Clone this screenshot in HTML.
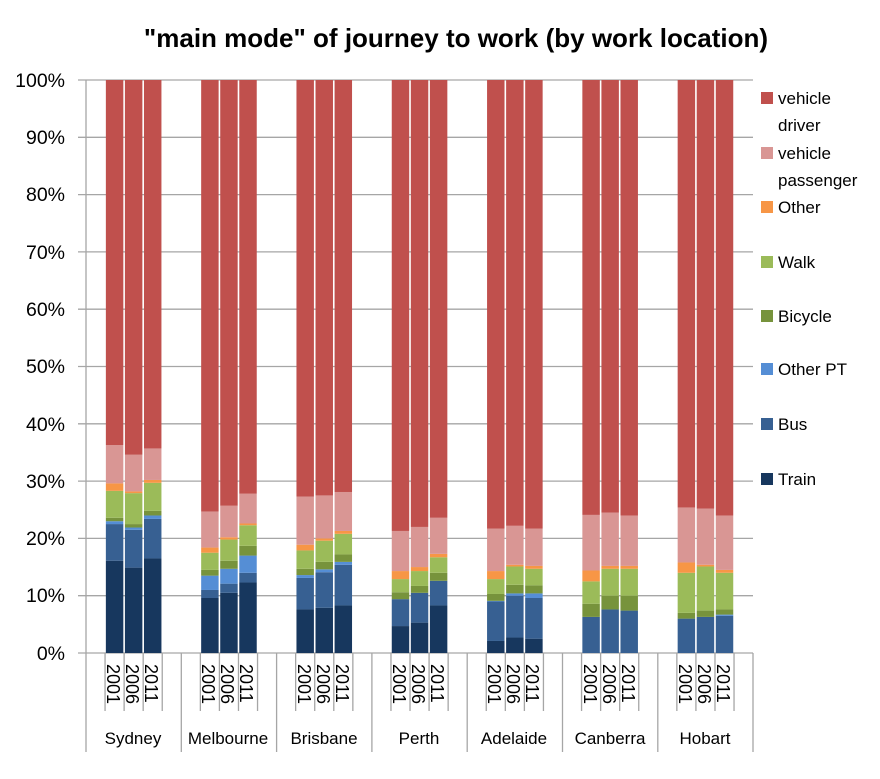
<!DOCTYPE html>
<html><head><meta charset="utf-8"><style>
body{margin:0;background:#fff;}
svg{display:block;font-family:"Liberation Sans",Arial,sans-serif;}
</style></head><body>
<svg id="s" width="880" height="779" viewBox="0 0 880 779" xmlns="http://www.w3.org/2000/svg">
<rect width="880" height="779" fill="#fff"/>
<text x="456" y="47" text-anchor="middle" font-size="26" font-weight="bold" fill="#000">"main mode" of journey to work (by work location)</text>
<g stroke="#a6a6a6" stroke-width="1.3" id="grid">
<line x1="78" y1="80" x2="753" y2="80"/><line x1="78" y1="137.3" x2="753" y2="137.3"/><line x1="78" y1="194.6" x2="753" y2="194.6"/><line x1="78" y1="251.9" x2="753" y2="251.9"/><line x1="78" y1="309.2" x2="753" y2="309.2"/><line x1="78" y1="366.5" x2="753" y2="366.5"/><line x1="78" y1="423.8" x2="753" y2="423.8"/><line x1="78" y1="481.1" x2="753" y2="481.1"/><line x1="78" y1="538.4" x2="753" y2="538.4"/><line x1="78" y1="595.7" x2="753" y2="595.7"/><line x1="78" y1="653" x2="753" y2="653"/>
<line x1="86" y1="80" x2="86" y2="653"/>
</g>
<g font-size="19.5" fill="#000" text-anchor="end">
<text x="65" y="87">100%</text><text x="65" y="144">90%</text><text x="65" y="201">80%</text><text x="65" y="259">70%</text><text x="65" y="316">60%</text><text x="65" y="373">50%</text><text x="65" y="431">40%</text><text x="65" y="488">30%</text><text x="65" y="545">20%</text><text x="65" y="602">10%</text><text x="65" y="660">0%</text>
</g>
<g id="bars"></g>
<g id="ticks" stroke="#a6a6a6" stroke-width="1.3"></g>
<g font-size="18" fill="#000" id="years">
<text transform="translate(107,664) rotate(90)">2001</text><text transform="translate(126,664) rotate(90)">2006</text><text transform="translate(145,664) rotate(90)">2011</text>
<text transform="translate(202,664) rotate(90)">2001</text><text transform="translate(221,664) rotate(90)">2006</text><text transform="translate(240,664) rotate(90)">2011</text>
<text transform="translate(298,664) rotate(90)">2001</text><text transform="translate(317,664) rotate(90)">2006</text><text transform="translate(336,664) rotate(90)">2011</text>
<text transform="translate(393,664) rotate(90)">2001</text><text transform="translate(412,664) rotate(90)">2006</text><text transform="translate(431,664) rotate(90)">2011</text>
<text transform="translate(488,664) rotate(90)">2001</text><text transform="translate(507,664) rotate(90)">2006</text><text transform="translate(526,664) rotate(90)">2011</text>
<text transform="translate(584,664) rotate(90)">2001</text><text transform="translate(603,664) rotate(90)">2006</text><text transform="translate(622,664) rotate(90)">2011</text>
<text transform="translate(679,664) rotate(90)">2001</text><text transform="translate(698,664) rotate(90)">2006</text><text transform="translate(717,664) rotate(90)">2011</text>
</g>
<g font-size="17" fill="#000" text-anchor="middle">
<text x="133" y="744">Sydney</text><text x="228" y="744">Melbourne</text><text x="324" y="744">Brisbane</text><text x="419" y="744">Perth</text><text x="514" y="744">Adelaide</text><text x="610" y="744">Canberra</text><text x="705" y="744">Hobart</text>
</g>
<g font-size="17" fill="#000">
<rect x="761" y="92" width="12" height="12" fill="#C0504D"/><text x="778" y="104">vehicle</text><text x="778" y="131">driver</text>
<rect x="761" y="147" width="12" height="12" fill="#D99694"/><text x="778" y="159">vehicle</text><text x="778" y="186">passenger</text>
<rect x="761" y="201" width="12" height="12" fill="#F79646"/><text x="778" y="213">Other</text>
<rect x="761" y="256" width="12" height="12" fill="#9BBB59"/><text x="778" y="268">Walk</text>
<rect x="761" y="310" width="12" height="12" fill="#77933C"/><text x="778" y="322">Bicycle</text>
<rect x="761" y="363" width="12" height="12" fill="#558ED5"/><text x="778" y="375">Other PT</text>
<rect x="761" y="418" width="12" height="12" fill="#376092"/><text x="778" y="430">Bus</text>
<rect x="761" y="473" width="12" height="12" fill="#17375E"/><text x="778" y="485">Train</text>
</g>
</svg>
<script>
var cols=["#17375E","#376092","#558ED5","#77933C","#9BBB59","#F79646","#D99694","#C0504D"];
var d=[
[16.1,22.5,23.0,23.6,28.3,29.6,36.3],[14.9,21.5,21.9,22.5,27.9,28.2,34.6],[16.5,23.4,24.0,24.8,29.7,30.2,35.7],
[9.6,11.0,13.5,14.5,17.5,18.4,24.7],[10.5,12.1,14.7,16.1,19.8,20.2,25.7],[12.3,14.0,17.0,18.7,22.3,22.6,27.8],
[7.6,13.1,13.6,14.7,17.9,18.9,27.3],[7.9,14.1,14.6,15.9,19.6,20.0,27.5],[8.3,15.4,15.9,17.2,20.8,21.3,28.1],
[4.7,9.4,9.4,10.6,12.9,14.3,21.3],[5.3,10.5,10.5,11.7,14.3,15.0,22.0],[8.3,12.6,12.6,14.0,16.7,17.3,23.6],
[2.1,9.0,9.1,10.3,12.9,14.3,21.7],[2.7,10.0,10.4,11.9,15.1,15.4,22.2],[2.5,9.6,10.4,11.8,14.7,15.2,21.7],
[0,6.3,6.3,8.6,12.5,14.4,24.1],[0,7.6,7.6,10.0,14.7,15.2,24.5],[0,7.4,7.4,10.0,14.7,15.2,24.0],
[0,6.0,6.0,7.0,14.0,15.8,25.4],[0,6.3,6.3,7.4,15.1,15.4,25.2],[0,6.5,6.7,7.6,14.0,14.5,24.0]];
var NS="http://www.w3.org/2000/svg",b=document.getElementById("bars"),t=document.getElementById("ticks");
function Y(p){return 653-p*5.73;}
function el(g,n,a){var e=document.createElementNS(NS,n);for(var k in a)e.setAttribute(k,a[k]);g.appendChild(e);}
var gw=95.3,sw=gw/5;
for(var i=0;i<21;i++){var g=Math.floor(i/3),j=i%3;var x=86+g*gw+(j+1)*sw+0.8;
 var v=d[i].concat([100]),prev=0;
 for(var k=0;k<8;k++){if(v[k]>prev){el(b,"rect",{x:x,y:Y(v[k]),width:sw-1.6,height:Y(prev)-Y(v[k]),fill:cols[k]});}prev=v[k];}
}
for(var g=0;g<7;g++){for(var s=0;s<5;s++){var x=86+g*gw+s*sw;el(t,"line",{x1:x,y1:653,x2:x,y2:s==0?752:711});}}
el(t,"line",{x1:753,y1:653,x2:753,y2:752});
</script>
</body></html>
